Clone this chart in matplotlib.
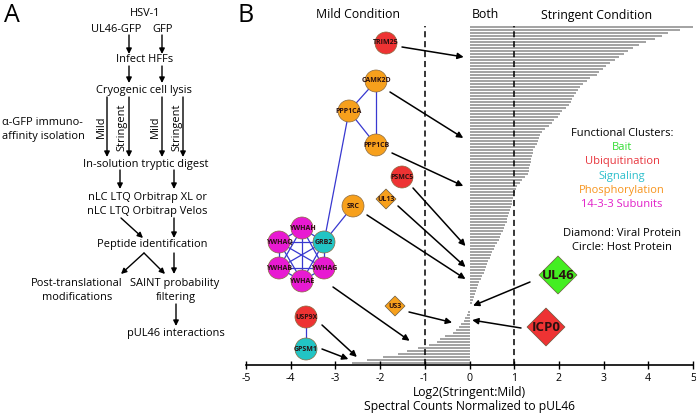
import matplotlib
matplotlib.use('Agg')
import matplotlib.pyplot as plt
import numpy as np
from matplotlib.patches import Circle, Polygon

plt.rcParams['font.family'] = ['Open Sans', 'DejaVu Sans']

# Log2(Stringent:Mild) per interactor, top bar first
bar_values = [
    5.0, 4.7, 4.45, 4.3, 4.15, 3.95, 3.8, 3.65, 3.55, 3.45,
    3.35, 3.25, 3.15, 3.05, 2.98, 2.9, 2.85, 2.7, 2.62, 2.55,
    2.48, 2.42, 2.38, 2.34, 2.3, 2.28, 2.22, 2.15, 2.08, 2.03,
    1.97, 1.9, 1.84, 1.78, 1.7, 1.63, 1.58, 1.55, 1.53, 1.51,
    1.47, 1.43, 1.41, 1.4, 1.38, 1.37, 1.36, 1.34, 1.32, 1.3,
    1.25, 1.18, 1.12, 1.07, 1.03, 1.01, 0.99, 0.98, 0.96, 0.94,
    0.92, 0.91, 0.89, 0.87, 0.85, 0.83, 0.8, 0.77, 0.74, 0.71,
    0.68, 0.65, 0.62, 0.58, 0.55, 0.51, 0.47, 0.45, 0.42, 0.4,
    0.37, 0.35, 0.32, 0.29, 0.26, 0.22, 0.19, 0.17, 0.15, 0.13,
    0.1, 0.08, 0.06, 0.02, 0.01, -0.03, -0.06, -0.09, -0.13, -0.18,
    -0.24, -0.3, -0.38, -0.55, -0.66, -0.72, -0.9, -1.15, -1.4, -1.6,
    -1.93, -2.3, -2.62,
]
x_ticks = [-5, -4, -3, -2, -1, 0, 1, 2, 3, 4, 5]
thresholds = [-1, 1]

legend_items = ['Bait', 'Ubiquitination', 'Signaling', 'Phosphorylation', '14-3-3 Subunits']
legend_colors = ['#33dd33', '#e8343c', '#2dbfcc', '#f7941d', '#e11fc8']

fill = {'bait': '#44ee22', 'ubi': '#ee3333', 'sig': '#22c4c4',
        'phos': '#f7a01c', '1433': '#e81ad2'}

# network nodes: name, cluster, shape, pixel position, radius
nodes = {
    'TRIM25': ('ubi', 'o', (386, 43), 11),
    'CAMK2D': ('phos', 'o', (376, 81), 11),
    'PPP1CA': ('phos', 'o', (349, 111), 11),
    'PPP1CB': ('phos', 'o', (376, 145), 11),
    'PSMC5': ('ubi', 'o', (402, 177), 11),
    'UL13': ('phos', 'd', (386, 199), 10),
    'SRC': ('phos', 'o', (353, 206), 11),
    'YWHAH': ('1433', 'o', (302, 228), 11),
    'YWHAQ': ('1433', 'o', (279, 242), 11),
    'GRB2': ('sig', 'o', (324, 242), 11),
    'YWHAB': ('1433', 'o', (279, 268), 11),
    'YWHAG': ('1433', 'o', (324, 268), 11),
    'YWHAE': ('1433', 'o', (302, 281), 11),
    'US3': ('phos', 'd', (395, 306), 10),
    'USP9X': ('ubi', 'o', (306, 317), 11),
    'GPSM1': ('sig', 'o', (306, 349), 11),
    'UL46': ('bait', 'd', (558, 275), 19),
    'ICP0': ('ubi', 'd', (546, 327), 19),
}
clique = ['YWHAH', 'YWHAQ', 'GRB2', 'YWHAB', 'YWHAG', 'YWHAE']
edges = [('CAMK2D', 'PPP1CA'), ('CAMK2D', 'PPP1CB'), ('PPP1CA', 'PPP1CB'),
         ('PPP1CA', 'GRB2'), ('SRC', 'GRB2'), ('USP9X', 'GPSM1')]
edges += [(a, b) for i, a in enumerate(clique) for b in clique[i + 1:]]

# arrows: start pixel -> target (log2 value, bar index)
arrows = [
    ((402, 47), (-0.13, 10)),
    ((390, 92), (-0.14, 37)),
    ((392, 153), (-0.14, 53)),
    ((413, 188), (-0.09, 73)),
    ((398, 206), (-0.09, 80)),
    ((367, 215), (-0.09, 84)),
    ((333, 287), (-1.34, 104.6)),
    ((409, 312), (-0.39, 98.5)),
    ((322, 325), (-2.52, 110)),
    ((322, 349), (-2.71, 110.7)),
    ((530, 282), (0.08, 92.9)),
    ((521, 328), (0.06, 97.7)),
]

W, H = 696, 419
fig = plt.figure(figsize=(W / 100, H / 100), dpi=100)

# --- panel B bars ---
ax = fig.add_axes([246 / W, (H - 365) / H, (693 - 246) / W, (365 - 26) / H])
n = len(bar_values)
ax.barh(np.arange(n), bar_values, height=0.667, color='#a4a4a4',
        edgecolor='none', linewidth=0)
ax.set_ylim(n - 0.5 + 1 / 6, -0.5 + 1 / 6)
ax.set_xlim(-5, 5)
for t in thresholds:
    ax.axvline(t, color='black', ls=(0, (4, 2.5)), lw=1.1)
for s in ['top', 'left', 'right']:
    ax.spines[s].set_visible(False)
ax.spines['bottom'].set_linewidth(1.2)
ax.set_yticks([])
ax.set_xticks(x_ticks)
ax.set_xticklabels([str(t) for t in x_ticks])
ax.tick_params(axis='x', direction='inout', length=6, width=1, labelsize=7.6, pad=3)
ax.set_xlabel('Log2(Stringent:Mild)\nSpectral Counts Normalized to pUL46',
              fontsize=8.7, labelpad=1, linespacing=1.15)
ax.patch.set_alpha(0)

# --- overlay in pixel coordinates ---
ov = fig.add_axes([0, 0, 1, 1])
ov.set_xlim(0, W)
ov.set_ylim(H, 0)
ov.axis('off')
ov.patch.set_alpha(0)

ov.text(4, 16, 'A', fontsize=18, va='center', ha='left')
ov.text(238, 16, 'B', fontsize=18, va='center', ha='left')
ov.text(358, 15, 'Mild Condition', fontsize=8.8, ha='center', va='center')
ov.text(485, 15, 'Both', fontsize=8.8, ha='center', va='center')
ov.text(597, 15, 'Stringent Condition', fontsize=8.8, ha='center', va='center')

# flowchart (panel A)
fs = 7.9
flow_text = [
    (145, 14, 'HSV-1'), (116, 29, 'UL46-GFP'), (163, 29, 'GFP'),
    (145, 60, 'Infect HFFs'), (144, 90, 'Cryogenic cell lysis'),
    (42, 122, 'α-GFP immuno-'), (43, 136, 'affinity isolation'),
    (146, 164, 'In-solution tryptic digest'),
    (147, 197, 'nLC LTQ Orbitrap XL or'), (147, 211, 'nLC LTQ Orbitrap Velos'),
    (152, 244, 'Peptide identification'),
    (77, 283, 'Post-translational'), (77, 297, 'modifications'),
    (175, 283, 'SAINT probability'), (176, 297, 'filtering'),
    (176, 333, 'pUL46 interactions'),
]
for x, y, s in flow_text:
    ov.text(x, y, s, fontsize=fs, ha='center', va='center')
for x, s in [(101, 'Mild'), (122, 'Stringent'), (155, 'Mild'), (177, 'Stringent')]:
    ov.text(x, 127, s, fontsize=fs, ha='center', va='center', rotation=90)

flow_arrows = [
    ((129, 35), (129, 54)), ((162, 35), (162, 54)),
    ((129, 66), (129, 83)), ((162, 66), (162, 83)),
    ((107, 97), (107, 157)), ((129, 97), (129, 157)),
    ((162, 97), (162, 157)), ((183, 97), (183, 157)),
    ((120, 170), (120, 189)), ((174, 170), (174, 189)),
    ((121, 218), (143, 238)), ((174, 218), (174, 238)),
    ((144, 253), (121, 274)), ((144, 253), (165, 274)), ((174, 253), (174, 274)),
    ((176, 304), (176, 326)),
]
for (x0, y0), (x1, y1) in flow_arrows:
    ov.annotate('', xy=(x1, y1), xytext=(x0, y0),
                arrowprops=dict(arrowstyle='-|>', color='black', lw=1.0,
                                mutation_scale=8, shrinkA=0, shrinkB=0))

# network edges
for a, b in edges:
    (xa, ya), (xb, yb) = nodes[a][2], nodes[b][2]
    ov.plot([xa, xb], [ya, yb], color='#3838d0', lw=0.9, zorder=2)

# arrows from nodes to bars
for (px, py), (tx, ti) in arrows:
    ov.annotate('', xy=(tx, ti), xycoords=ax.transData, xytext=(px, py),
                textcoords='data', annotation_clip=False,
                arrowprops=dict(arrowstyle='-|>', color='black', lw=1.1,
                                mutation_scale=9, shrinkA=0, shrinkB=0), zorder=3)

# network nodes
for name, (cl, shape, (x, y), r) in nodes.items():
    if shape == 'o':
        p = Circle((x, y), r, facecolor=fill[cl], edgecolor='#8a6a40', lw=0.5, zorder=4)
    else:
        p = Polygon([(x, y - r), (x + r, y), (x, y + r), (x - r, y)], closed=True,
                    facecolor=fill[cl], edgecolor='#6a5a40', lw=0.5, zorder=4)
    ov.add_patch(p)
    big = r > 15
    ov.text(x, y, name, fontsize=9.5 if big else 5.0, fontweight='bold',
            ha='center', va='center', color='#2a1010', zorder=5)

# legend text
lfs = 8
ov.text(622, 133, 'Functional Clusters:', fontsize=lfs, ha='center', va='center')
for k, (lab, c) in enumerate(zip(legend_items, legend_colors)):
    ov.text(622, 147.5 + 14.3 * k, lab, fontsize=lfs, ha='center', va='center', color=c)
ov.text(622, 233, 'Diamond: Viral Protein', fontsize=lfs, ha='center', va='center')
ov.text(622, 247, 'Circle: Host Protein', fontsize=lfs, ha='center', va='center')

fig.savefig('out.png', dpi=100)
